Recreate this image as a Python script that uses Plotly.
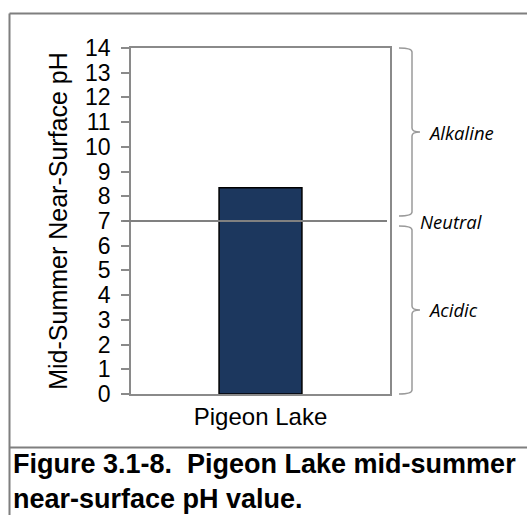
import plotly.graph_objects as go

# ---- data ----
categories = ["Pigeon Lake"]
ph_values = [8.35]
y_ticks = list(range(0, 15))
neutral_ph = 7
zones = ["Alkaline", "Neutral", "Acidic"]
Y_MAX = 14

# ---- layout geometry ----
W, H = 527, 515
ML, MR, MT, MB = 131, 137, 48, 121
PW = W - ML - MR
PH = H - MT - MB


def px_x(px):
    return (px - ML) / PW


def px_y(py):
    return (H - MB - py) / PH


def val_y(v):
    return v / Y_MAX


GRAY = "#8a8a8a"
FONT = "Liberation Sans, Arial, sans-serif"

fig = go.Figure()
fig.add_trace(go.Bar(
    x=categories, y=ph_values, width=0.32,
    marker=dict(color="#1c375e", line=dict(color="#000000", width=1.5)),
    hoverinfo="skip",
))


def brace(v_bot, v_top, x0=399, xs=412, xt=420, r=4):
    yb, yt = val_y(v_bot), val_y(v_top)
    ym = (yb + yt) / 2
    rr = r / PH
    X0, XS, XT = px_x(x0), px_x(xs), px_x(xt)
    return (f"M {X0},{yt} Q {XS},{yt} {XS},{yt - rr} "
            f"L {XS},{ym + rr} Q {XS},{ym} {XT},{ym} "
            f"Q {XS},{ym} {XS},{ym - rr} "
            f"L {XS},{yb + rr} Q {XS},{yb} {X0},{yb}")


gap = 0.2
shapes = [
    # neutral line
    dict(type="line", xref="paper", yref="y", x0=px_x(123), x1=px_x(387),
         y0=neutral_ph, y1=neutral_ph, line=dict(color="#808080", width=2), layer="above"),
    # braces
    dict(type="path", xref="paper", yref="paper", path=brace(neutral_ph + gap, Y_MAX),
         line=dict(color="#9a9a9a", width=1.5)),
    dict(type="path", xref="paper", yref="paper", path=brace(0, neutral_ph - gap),
         line=dict(color="#9a9a9a", width=1.5)),
    # outer frame
    dict(type="line", xref="paper", yref="paper", x0=px_x(9.5), x1=px_x(540),
         y0=px_y(13.5), y1=px_y(13.5), line=dict(color="#7f7f7f", width=2)),
    dict(type="line", xref="paper", yref="paper", x0=px_x(9.5), x1=px_x(9.5),
         y0=px_y(13.5), y1=px_y(530), line=dict(color="#7f7f7f", width=2)),
    dict(type="line", xref="paper", yref="paper", x0=px_x(9.5), x1=px_x(540),
         y0=px_y(447.5), y1=px_y(447.5), line=dict(color="#7f7f7f", width=2)),
]

zone_font = dict(family="Open Sans, sans-serif", size=18.5, color="#000000")
annotations = [
    dict(text=f"<i>{zones[0]}</i>", xref="paper", yref="y", x=px_x(426),
         y=(neutral_ph + gap + Y_MAX) / 2, xanchor="left", yanchor="middle",
         showarrow=False, font=zone_font),
    dict(text=f"<i>{zones[1]}</i>", xref="paper", yref="y", x=px_x(418),
         y=neutral_ph, xanchor="left", yanchor="middle", showarrow=False, font=zone_font),
    dict(text=f"<i>{zones[2]}</i>", xref="paper", yref="y", x=px_x(426),
         y=(neutral_ph - gap) / 2, xanchor="left", yanchor="middle",
         showarrow=False, font=zone_font),
    dict(text="<b>Figure 3.1-8.\u00a0 Pigeon Lake mid-summer<br>near-surface pH value.</b>",
         xref="paper", yref="paper", x=px_x(11), y=px_y(447), xanchor="left",
         yanchor="top", align="left", showarrow=False,
         font=dict(family=FONT, size=27, color="#000000")),
]

fig.update_layout(
    width=W, height=H,
    margin=dict(l=ML, r=MR, t=MT, b=MB),
    paper_bgcolor="white", plot_bgcolor="white",
    showlegend=False,
    font=dict(family=FONT, color="#000000"),
    shapes=shapes, annotations=annotations,
    xaxis=dict(showline=True, mirror=True, linecolor=GRAY, linewidth=1.5,
               showgrid=False, ticks="", tickfont=dict(size=24), fixedrange=True),
    yaxis=dict(range=[0, Y_MAX], tickvals=y_ticks, showline=True, mirror=True,
               linecolor=GRAY, linewidth=1.5, showgrid=False, zeroline=False,
               ticks="outside", ticklen=8, tickcolor=GRAY, tickwidth=1.5,
               tickfont=dict(size=23), ticklabelstandoff=6,
               title=dict(text="Mid-Summer Near-Surface pH", font=dict(size=25), standoff=10),
               fixedrange=True),
)

fig.write_html("out.html", config={"displayModeBar": False},
               post_script="document.body.style.margin='0';document.body.style.overflow='hidden';")
